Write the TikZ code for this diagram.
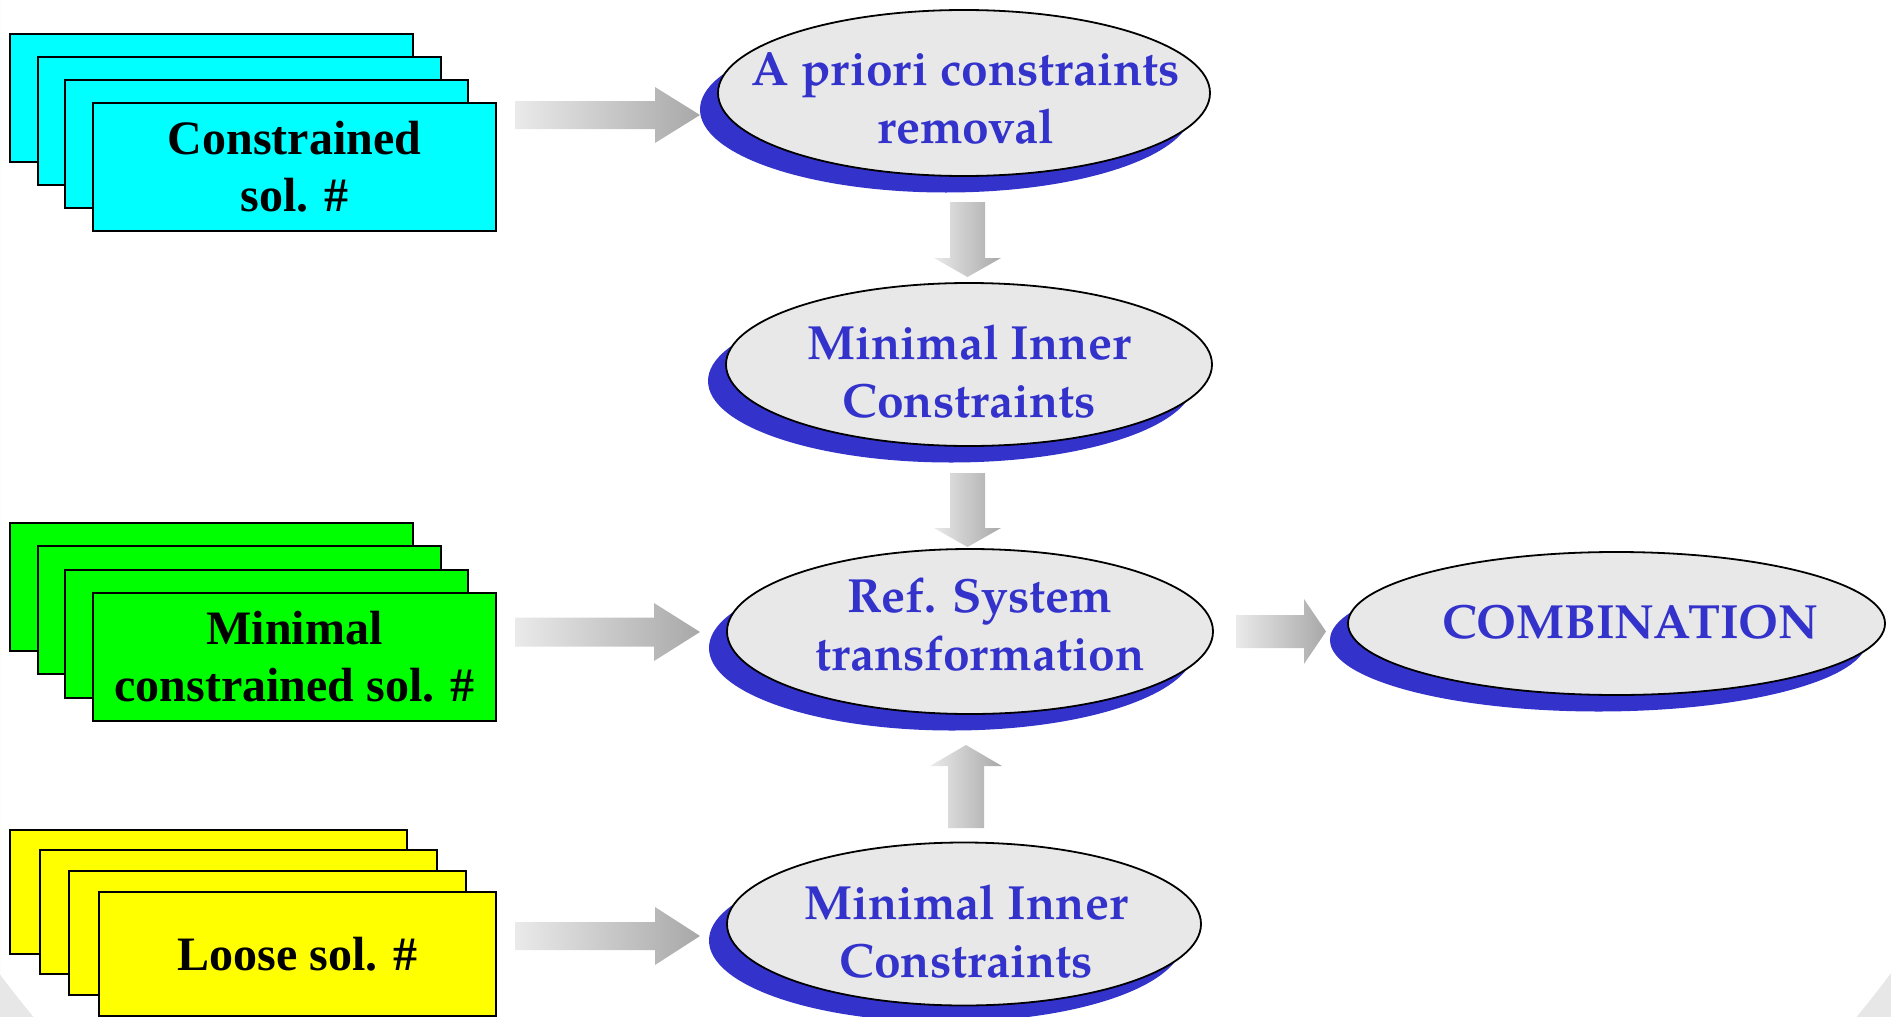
\documentclass[tikz,border=0pt]{standalone}
\usepackage{fontspec}
\setmainfont{Liberation Serif}
\newfontfamily\ovalfont{TeX Gyre Pagella}
\usetikzlibrary{shapes.geometric,shadows,calc}

\definecolor{boxcyan}{RGB}{0,255,255}
\definecolor{boxgreen}{RGB}{0,255,0}
\definecolor{boxyellow}{RGB}{255,255,0}
\definecolor{ovalfill}{RGB}{232,232,232}
\definecolor{ovalblue}{RGB}{51,51,204}
\definecolor{arrowlight}{RGB}{234,234,234}
\definecolor{arrowdark}{RGB}{168,168,168}
\definecolor{cornergray}{RGB}{231,231,231}

\tikzset{
  stackbox/.style={rectangle, draw=black, line width=1pt,
    minimum width=201.5pt, minimum height=64pt, inner sep=0pt,
    align=center, font=\bfseries\fontsize{24}{28.5}\selectfont},
  loosebox/.style={stackbox, minimum width=198.5pt, minimum height=62pt},
  oval/.style={ellipse, draw=black, line width=0.9pt, fill=ovalfill, inner sep=0pt,
    drop shadow={shadow xshift=-9pt, shadow yshift=-8.25pt, fill=ovalblue, opacity=1}},
  % anchored at the baseline of the last line
  ovaltext/.style={anchor=base, align=center, text=ovalblue, inner sep=0pt,
    font=\ovalfont\bfseries\fontsize{24}{29}\selectfont},
}

% horizontal block arrow: start, tip, shaft half-height, head half-height, head length
\newcommand\blockright[5]{%
  \shade[left color=arrowlight, right color=arrowdark]
    ($(#1)+(0,-#3)$) -- ($(#2)+(-#5,-#3)$) -- ($(#2)+(-#5,-#4)$) -- (#2)
    -- ($(#2)+(-#5,#4)$) -- ($(#2)+(-#5,#3)$) -- ($(#1)+(0,#3)$) -- cycle;}
% vertical block arrow: start, tip, shaft half-width, head half-width, head length, direction (1 down, -1 up)
\newcommand\blockvert[6]{%
  \shade[left color=arrowlight, right color=arrowdark]
    ($(#1)+(-#3,0)$) -- ($(#2)+(-#3,{-(#6)*(#5)})$) -- ($(#2)+(-#4,{-(#6)*(#5)})$) -- (#2)
    -- ($(#2)+(#4,{-(#6)*(#5)})$) -- ($(#2)+(#3,{-(#6)*(#5)})$) -- ($(#1)+(#3,0)$) -- cycle;}

\begin{document}
\begin{tikzpicture}[x=0.5pt, y=-0.5pt]
\useasboundingbox (0,0) rectangle (1891,1017);

% light background corners
\begin{scope}
  \clip (0,0) rectangle (1891,1017);
  \fill[cornergray, even odd rule] (0,0) rectangle (1891,1017) (945,266) circle (1181);
\end{scope}

% stacks of solutions
\foreach \i in {1,2,3}
  \node[stackbox, fill=boxcyan] (cy\i) at ({211.5+27.7*(\i-1)},{97.5+23.2*(\i-1)}) {};
\node[stackbox, fill=boxcyan] (cy4) at (294.5,167) {Constrained\\sol. \#};

\foreach \i in {1,2,3}
  \node[stackbox, fill=boxgreen] (gr\i) at ({211.5+27.7*(\i-1)},{587+23.3*(\i-1)}) {};
\node[stackbox, fill=boxgreen] (gr4) at (294.5,657) {Minimal\\constrained sol. \#};

\foreach \i in {1,2,3}
  \node[loosebox, fill=boxyellow] (ye\i) at ({208.5+29.7*(\i-1)},{891.5+20.8*(\i-1)}) {};
\node[loosebox, fill=boxyellow] (ye4) at (297.5,954) {Loose sol. \#};

% block arrows
\coordinate (a1s) at (515,115);   \coordinate (a1e) at (700,115);
\coordinate (a2s) at (515,632);   \coordinate (a2e) at (700,632);
\coordinate (a3s) at (515,936);   \coordinate (a3e) at (700,936);
\coordinate (a4s) at (1236,631.5); \coordinate (a4e) at (1326,631.5);
\coordinate (d1s) at (967.5,202); \coordinate (d1e) at (967.5,277);
\coordinate (d2s) at (967.5,473); \coordinate (d2e) at (967.5,547);
\coordinate (u1s) at (966,828);   \coordinate (u1e) at (966,745);

\blockright{a1s}{a1e}{14}{28}{45}
\blockright{a2s}{a2e}{14.5}{29}{46}
\blockright{a3s}{a3e}{14}{29}{45}
\blockright{a4s}{a4e}{16.5}{32.5}{22}
\blockvert{d1s}{d1e}{17.5}{33.5}{19}{1}
\blockvert{d2s}{d2e}{17.5}{33.5}{19}{1}
\blockvert{u1s}{u1e}{18}{36}{21}{-1}

% processing steps
\node[oval, minimum width=246pt, minimum height=83pt] (e1) at (964,93) {};
\node[oval, minimum width=243pt, minimum height=81.5pt] (e2) at (969,364.5) {};
\node[oval, minimum width=243pt, minimum height=82.5pt] (e3) at (970,631.5) {};
\node[oval, minimum width=237pt, minimum height=81.5pt] (e4) at (964,924) {};
\node[oval, minimum width=268.5pt, minimum height=71.5pt] (e5) at (1616.5,623.5) {};

\node[ovaltext] (e1txt) at (966,143) {A priori constraints\\removal};
\node[ovaltext] (e2txt) at (969,417) {Minimal Inner\\Constraints};
\node[ovaltext] (e3txt) at (980,670) {Ref. System\\transformation};
\node[ovaltext] (e4txt) at (966,977) {Minimal Inner\\Constraints};
\node[ovaltext] (e5txt) at (1630.5,638) {COMBINATION};
\end{tikzpicture}
\end{document}
